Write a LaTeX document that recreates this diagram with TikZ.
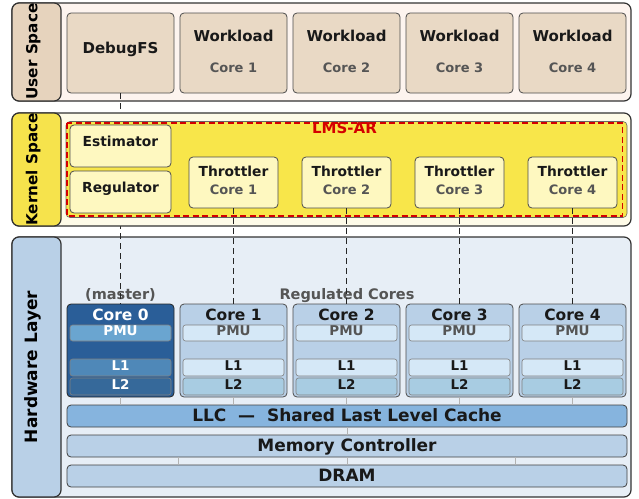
\documentclass[tikz,border=0pt]{standalone}
\usepackage{fontspec}
\setmainfont{DejaVu Sans}
\definecolor{userlab}{HTML}{E6D3BD}
\definecolor{userbg}{HTML}{FDF4EF}
\definecolor{userbox}{HTML}{E9D9C5}
\definecolor{kernlab}{HTML}{F6E34C}
\definecolor{kernbg}{HTML}{FEFBE8}
\definecolor{lmsfill}{HTML}{F8E64A}
\definecolor{kernbox}{HTML}{FEF8C0}
\definecolor{lmsred}{HTML}{D40000}
\definecolor{hwlab}{HTML}{B9D0E7}
\definecolor{hwbg}{HTML}{E7EEF6}
\definecolor{corefill}{HTML}{B9D0E7}
\definecolor{mastfill}{HTML}{2A5E98}
\definecolor{mastpmu}{HTML}{6AA5D0}
\definecolor{mastlone}{HTML}{4F88B8}
\definecolor{mastltwo}{HTML}{36699A}
\definecolor{pmufill}{HTML}{D5E8F7}
\definecolor{ltwofill}{HTML}{A8CCE2}
\definecolor{llcfill}{HTML}{86B4DE}
\definecolor{txtgrey}{HTML}{555555}
\begin{document}
\begin{tikzpicture}[x=1pt,y=-1pt,
    panel/.style={draw=black!80,line width=1.2pt,rounded corners=7pt},
    blk/.style={draw=black!70,line width=0.8pt,rounded corners=4pt,inner sep=0pt},
    bar/.style={draw=black!50,line width=0.6pt,rounded corners=2.5pt,inner sep=0pt,minimum width=101pt},
    wide/.style={blk,draw=black!75,minimum width=560pt,minimum height=22pt},
    txt/.style={anchor=base,inner sep=0pt,font=\bfseries\fontsize{#1}{#1}\selectfont},
    lab/.style={rotate=90,anchor=base,inner sep=0pt,font=\bfseries\fontsize{#1}{#1}\selectfont},
    hwline/.style={draw=black!30,line width=0.7pt},
    link/.style={draw=black!85,line width=1.2pt,dash pattern=on 6pt off 4pt}]
    \useasboundingbox (0,0) rectangle (639,498);

    %Hardware layer
    \draw[panel,fill=hwbg] (12,237) rectangle (631,497);
    \draw[panel,fill=hwlab] (12,237) rectangle (61,497);
    \node[lab=17] (hwname) at (37,367) {Hardware Layer};
    \node[txt=14.5,text=txtgrey] (mast) at (120.5,299.5) {(master)};
    \node[txt=14.5,text=txtgrey] (regcores) at (347,299.5) {Regulated Cores};

    %Cores
    \node[blk,fill=mastfill,draw=black!85,minimum width=107pt,minimum height=93pt] (core0) at (120.5,350.5) {};
    \node[txt=15.5,text=white] (core0t) at (120.5,320) {Core 0};
    \node[bar,fill=mastpmu,minimum height=16pt] (pmu0) at (120.5,333) {};
    \node[txt=13.5,text=white] (pmu0t) at (120.5,335) {PMU};
    \node[bar,fill=mastlone,minimum height=17pt] (lone0) at (120.5,367.5) {};
    \node[txt=13.5,text=white] (lone0t) at (120.5,370.7) {L1};
    \node[bar,fill=mastltwo,minimum height=17pt] (ltwo0) at (120.5,386.5) {};
    \node[txt=13.5,text=white] (ltwo0t) at (120.5,389) {L2};
    \foreach \i in {1,...,4}{
        \node[blk,fill=corefill,minimum width=107pt,minimum height=93pt] (core\i) at ({120.5+113*\i},350.5) {};
        \node[txt=15.5,text=black!90] (core\i t) at ({120.5+113*\i},320) {Core \i};
        \node[bar,fill=pmufill,minimum height=16pt] (pmu\i) at ({120.5+113*\i},333) {};
        \node[txt=13.5,text=txtgrey] (pmu\i t) at ({120.5+113*\i},335) {PMU};
        \node[bar,fill=pmufill,minimum height=17pt] (lone\i) at ({120.5+113*\i},367.5) {};
        \node[txt=13.5,text=black!90] (lone\i t) at ({120.5+113*\i},370.7) {L1};
        \node[bar,fill=ltwofill,minimum height=17pt] (ltwo\i) at ({120.5+113*\i},386.5) {};
        \node[txt=13.5,text=black!90] (ltwo\i t) at ({120.5+113*\i},389) {L2};
    }

    %Memory side
    \node[wide,fill=llcfill] (llc) at (347,416) {};
    \node[txt=17,text=black!90] (llct) at (347,421) {LLC\ \ —\ \ Shared Last Level Cache};
    \node[wide,fill=corefill] (mem) at (347,446) {};
    \node[txt=17,text=black!90] (memt) at (347,451) {Memory Controller};
    \node[wide,fill=corefill] (dram) at (347,476) {};
    \node[txt=17,text=black!90] (dramt) at (347,481) {DRAM};
    \foreach \i in {0,...,4}
        \draw[hwline] (core\i.south) -- (core\i.south |- llc.north);
    \draw[hwline] (llc.south) -- (mem.north);
    \draw[hwline] (mem.south) -- (dram.north);
    \draw[hwline] ([xshift=-169pt]mem.south) -- ([xshift=-169pt]dram.north);
    \draw[hwline] ([xshift=168pt]mem.south) -- ([xshift=168pt]dram.north);

    %User space
    \draw[panel,fill=userbg] (12,3) rectangle (631,101);
    \draw[panel,fill=userlab] (12,3) rectangle (61,101);
    \node[lab=15.2] (username) at (37.3,51.5) {User Space};
    \node[blk,fill=userbox,minimum width=107pt,minimum height=80pt] (dbg) at (120.5,53) {};
    \node[txt=15,text=black!90] (dbgt) at (120.5,53.5) {DebugFS};
    \foreach \i in {1,...,4}{
        \node[blk,fill=userbox,minimum width=107pt,minimum height=80pt] (wl\i) at ({120.5+113*\i},53) {};
        \node[txt=15,text=black!90] (wl\i t) at ({120.5+113*\i},41) {Workload};
        \node[txt=13,text=txtgrey] (wl\i c) at ({120.5+113*\i},72.5) {Core \i};
    }

    %DebugFS to master core
    \draw[link] (dbg.south) -- (core0.north);

    %Kernel space
    \draw[panel,fill=kernbg] (12,113) rectangle (631,226);
    \draw[panel,fill=kernlab] (12,113) rectangle (61,226);
    \node[lab=15.2] (kernname) at (37.3,169.5) {Kernel Space};
    \draw[draw=black!60,line width=0.6pt,fill=lmsfill,rounded corners=4pt] (66,121.5) rectangle (627,217.5);
    \draw[lmsred,line width=1.3pt,dash pattern=on 6pt off 3.5pt] (67,123) rectangle (622.5,216);
    \node[txt=15,text=lmsred] (lms) at (344.5,133.5) {LMS-AR};
    \node[blk,fill=kernbox,minimum width=101pt,minimum height=42pt] (est) at (120.5,146) {};
    \node[txt=13.8,text=black!90] (estt) at (120.5,146.7) {Estimator};
    \node[blk,fill=kernbox,minimum width=101pt,minimum height=42pt] (reg) at (120.5,192) {};
    \node[txt=13.8,text=black!90] (regt) at (120.5,192.7) {Regulator};
    \foreach \i in {1,...,4}{
        \node[blk,fill=kernbox,minimum width=89pt,minimum height=51pt] (thr\i) at ({120.5+113*\i},182.5) {};
        \node[txt=13.8,text=black!90] (thr\i t) at ({120.5+113*\i},176.7) {Throttler};
        \node[txt=13,text=txtgrey] (thr\i c) at ({120.5+113*\i},194.3) {Core \i};
    }

    %Throttlers to cores
    \foreach \i in {1,...,4}
        \draw[link] (thr\i.south) -- (core\i.north);
\end{tikzpicture}
\end{document}
